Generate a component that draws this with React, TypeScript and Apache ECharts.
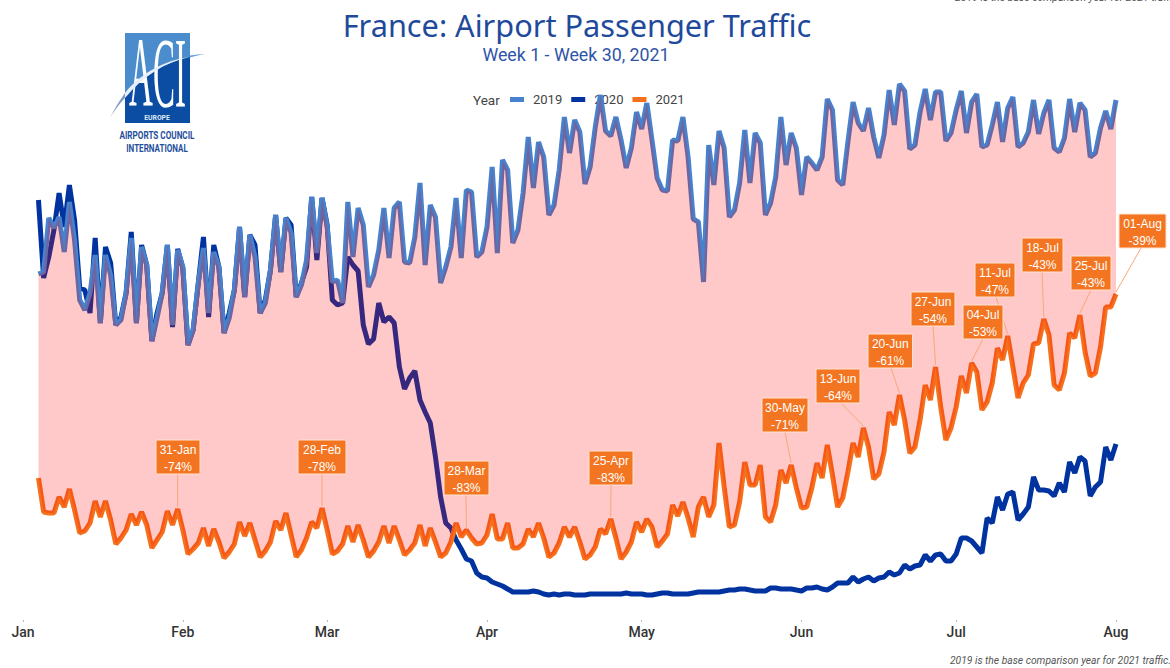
import React, { useEffect, useRef } from "react";
import * as echarts from "echarts";

// Daily passengers (thousands), Week 1 (4 Jan) to Week 30 (1 Aug)
const y2019 = [
  326,328,382,372,383,348,398,360,300,290,307,345,277,345,325,275,280,307,362,277,353,335,259,282,307,355,275,350,333,255,
  270,317,352,287,348,333,267,282,310,373,303,365,343,287,297,330,385,328,382,367,303,315,340,403,347,402,373,318,320,297,
  398,343,392,375,313,325,350,392,342,392,398,338,337,363,417,335,395,383,317,333,353,402,342,410,408,343,348,373,433,347,
  440,430,357,370,407,463,412,458,443,385,395,430,483,447,480,468,416,433,473,505,469,464,483,460,432,452,488,471,497,460,
  422,410,409,460,459,483,443,381,378,318,455,415,469,452,383,390,417,470,417,467,457,385,397,423,483,435,467,452,405,443,
  437,430,443,501,490,420,415,458,498,477,469,492,463,442,465,510,475,516,509,451,455,488,511,480,508,508,459,467,490,509,
  467,498,506,453,455,475,498,458,492,503,453,457,468,500,466,487,500,452,448,462,501,468,497,490,443,447,472,489,471,500,
];
const y2020 = [
  400,322,343,370,407,373,415,380,312,310,287,362,277,353,337,275,283,307,368,277,355,335,259,287,307,355,273,351,332,255,
  270,317,363,283,355,333,267,287,310,373,303,365,355,287,300,330,385,328,382,375,303,317,333,403,340,402,375,300,295,297,
  343,335,329,275,256,261,297,278,283,277,233,211,222,229,200,188,177,143,103,77,72,60,51,41,39,27,23,22,18,16,
  14,11,8,8,8,8,9,8,6,5,6,5,6,6,5,5,5,6,6,6,6,6,6,6,7,6,6,6,5,5,
  6,7,7,6,6,6,6,7,8,8,8,8,8,9,10,10,11,11,10,9,9,9,12,12,11,11,11,10,9,12,
  12,13,11,10,13,17,17,17,23,18,21,23,19,22,23,28,25,27,35,31,34,35,45,39,45,46,39,39,46,62,
  62,59,53,47,82,77,103,90,106,108,80,86,93,123,110,110,109,104,117,108,138,127,143,139,104,113,118,153,140,156,
];
const y2021 = [
  122,88,87,87,103,93,111,90,67,69,77,99,83,99,80,56,62,70,86,75,88,75,52,60,68,89,75,91,70,46,
  51,57,72,54,71,58,42,48,56,78,64,77,60,43,49,58,79,70,87,65,43,50,62,78,72,92,70,46,49,56,
  74,58,75,60,43,49,58,74,57,74,60,45,50,57,75,54,72,58,43,47,58,77,63,70,62,56,57,65,86,61,
  61,77,52,52,56,71,63,77,62,43,47,57,73,63,73,58,41,45,53,71,66,81,62,41,48,58,78,68,81,73,
  53,59,66,95,84,98,82,63,93,103,83,95,157,113,73,75,98,138,115,115,135,83,78,95,130,117,135,112,92,93,
  112,137,122,155,125,93,102,128,157,143,172,153,121,126,148,188,175,205,180,147,153,180,215,200,233,193,160,172,193,224,
  207,237,228,190,198,217,252,240,264,233,202,217,225,256,257,281,265,215,210,227,267,262,285,248,224,227,253,293,293,306,
];

const monthLabels = ["Jan", "Feb", "Mar", "Apr", "May", "Jun", "Jul", "Aug"];
const monthStartDays = [0, 31, 59, 90, 120, 151, 181, 212];
const firstDataDay = 3; // 4 January
const calloutDates = ["31-Jan", "28-Feb", "28-Mar", "25-Apr", "30-May", "13-Jun", "20-Jun", "27-Jun", "11-Jul", "04-Jul", "18-Jul", "25-Jul", "01-Aug"];
const calloutChanges = ["-74%", "-78%", "-83%", "-83%", "-71%", "-64%", "-61%", "-54%", "-47%", "-53%", "-43%", "-43%", "-39%"];
const calloutDayIndex = [27, 55, 83, 111, 146, 160, 167, 174, 188, 181, 195, 202, 209];

// Callout box layout on the page: [left, top, width, leader start x]
const calloutLayout = [
  [156, 440, 44, 177.6], [298, 440, 48, 322], [444, 461, 45, 466], [589, 451, 44, 611],
  [762, 398, 46, 785], [816, 369, 44, 841], [868, 334, 44.5, 891], [911, 292, 44, 933],
  [975, 263, 40, 996], [963, 305, 40, 983], [1022, 238, 41, 1042], [1071, 256, 40, 1091], [1119, 214, 47, 1141],
];

const pairs = (vals: number[]) => vals.map((v, i) => [firstDataDay + i, v]);

echarts.graphic.registerShape("aciDark", echarts.graphic.extendPath("M125 97 C143 76 165 62 190 57 L190 123 L125 123 Z", {}));
echarts.graphic.registerShape("aciSwoosh", echarts.graphic.extendPath("M125 98 C143 76 165 62 190 57 C165 60 141 73 125 93 Z", {}));
echarts.graphic.registerShape("aciTail", echarts.graphic.extendPath("M110 118 C114 110 119 101 125 93 L125 98 C119 104 114 111 110 118 Z", {}));
echarts.graphic.registerShape("aciTip", echarts.graphic.extendPath("M190 55.5 C195 54.5 200 54 205 54 C200 55 195 56 190 57.5 Z", {}));

export default function App() {
  const ref = useRef<HTMLDivElement>(null);
  useEffect(() => {
    document.body.style.margin = "0";
    const chart = echarts.init(ref.current!, undefined, { renderer: "svg" });
    const font = "Roboto, sans-serif";
    const lineWidth = 5;
    const lineBase = { type: "line", showSymbol: false, silent: true, smooth: false };
    chart.setOption({
      animation: false,
      backgroundColor: "#fff",
      title: [
        { text: "France: Airport Passenger Traffic", left: 577, top: 9, padding: 0, textAlign: "center",
          textStyle: { fontFamily: "'Noto Sans', sans-serif", fontWeight: 400, fontSize: 30.7, color: "#1f4a9b" } },
        { text: "Week 1 - Week 30, 2021", left: 576, top: 45, padding: 0, textAlign: "center",
          textStyle: { fontFamily: font, fontWeight: 400, fontSize: 17.8, color: "#2f55a8" } },
      ],
      legend: {
        data: ["2019", "2020", "2021"], left: 510, top: 93, padding: 0, z: 0, icon: "rect",
        itemWidth: 14, itemHeight: 5, itemGap: 9, selectedMode: false,
        textStyle: { fontFamily: font, fontSize: 13, color: "#444", padding: [0, 0, 0, 4] },
      },
      grid: { left: 23, width: 1093, top: 60, height: 560 },
      xAxis: {
        type: "value", min: 0, max: 212,
        splitLine: { show: false },
        axisLine: { show: false, onZero: false },
        axisTick: { show: true, length: 2, lineStyle: { color: "#bbb" }, customValues: monthStartDays },
        axisLabel: {
          customValues: monthStartDays, margin: 5, hideOverlap: false, showMinLabel: true, showMaxLabel: true,
          formatter: (v: number) => monthLabels[monthStartDays.indexOf(v)],
          fontFamily: font, fontWeight: 500, fontSize: 14, color: "#333",
        },
      },
      yAxis: { type: "value", min: -20, max: 540, show: false, splitLine: { show: false } },
      series: [
        { ...lineBase, name: "2020", z: 2, data: pairs(y2020), color: "#0033a0", lineStyle: { width: lineWidth, color: "#0033a0" } },
        { ...lineBase, name: "2021", z: 2, data: pairs(y2021), color: "#f5701c", lineStyle: { width: lineWidth, color: "#f5701c" } },
        { ...lineBase, name: "2019", z: 2, data: pairs(y2019), color: "#4682cd", lineStyle: { width: lineWidth, color: "#4682cd" } },
        {
          type: "custom", name: "band", z: 3, silent: true, clip: false,
          coordinateSystem: "cartesian2d",
          encode: { x: 0, y: 1 },
          data: [[firstDataDay, y2019[0]]],
          renderItem: (_params: any, api: any) => {
            const top = pairs(y2019).map((p) => api.coord(p));
            const bottom = pairs(y2021).map((p) => api.coord(p)).reverse();
            return { type: "polygon", shape: { points: top.concat(bottom) }, style: { fill: "rgba(255,0,0,0.21)" } };
          },
        },
        {
          type: "custom", name: "callouts", z: 5, silent: true, clip: false,
          coordinateSystem: "cartesian2d",
          encode: { x: 0, y: 1 },
          data: calloutDayIndex.map((i) => [firstDataDay + i, y2021[i]]),
          renderItem: (params: any, api: any) => {
            const i = params.dataIndex;
            const [left, top, width, lineX] = calloutLayout[i];
            const pt = api.coord([api.value(0), api.value(1)]);
            const h = 34;
            const cx = left + width / 2;
            return {
              type: "group",
              children: [
                { type: "line", shape: { x1: lineX, y1: top + h, x2: pt[0], y2: pt[1] - 2 },
                  style: { stroke: "#f7a878", lineWidth: 1 } },
                { type: "rect", shape: { x: left, y: top, width, height: h, r: 1 },
                  style: { fill: "#f37521", stroke: "#ffe2cf", lineWidth: 1 } },
                { type: "text", style: { x: cx, y: top + 9.5, text: calloutDates[i], fill: "#fff", font: "12px 'Liberation Sans'", align: "center", verticalAlign: "middle" } },
                { type: "text", style: { x: cx, y: top + 27, text: calloutChanges[i], fill: "#fff", font: "12px 'Liberation Sans'", align: "center", verticalAlign: "middle" } },
              ],
            };
          },
        },
      ],
      graphic: [
        { type: "text", left: 473, top: 93, style: { text: "Year", font: "13.5px Roboto", fill: "#444" } },
        { type: "text", left: 955, top: -8, style: { text: "2019 is the base comparison year for 2021 traffic.", font: "italic 10.5px Roboto", fill: "#555" } },
        { type: "text", left: 950, top: 655, style: { text: "2019 is the base comparison year for 2021 traffic.", font: "italic 10.3px Roboto", fill: "#555" } },
        { type: "rect", shape: { x: 125, y: 33, width: 65, height: 90 }, style: { fill: "#4a8ccc" } },
        { type: "aciDark", style: { fill: "#0b4da2" } },
        { type: "text", x: 157.5, y: 122, scaleX: 0.33, style: { text: "ACI", font: "100px 'Liberation Serif'", fill: "#fff", align: "center", verticalAlign: "bottom" } },
        { type: "aciSwoosh", style: { fill: "#e8eff8" } },
        { type: "aciTail", style: { fill: "#7f9cc4" } },
        { type: "aciTip", style: { fill: "#6aa2dc" } },
        { type: "text", x: 157, y: 117, scaleX: 0.85, style: { text: "EUROPE", font: "bold 8px Roboto", fill: "#dfe9f6", align: "center", verticalAlign: "middle" } },
        { type: "text", x: 157, y: 135, scaleX: 0.74, style: { text: "AIRPORTS COUNCIL", font: "bold 11px Roboto", fill: "#1f4e9c", align: "center", verticalAlign: "middle" } },
        { type: "text", x: 157, y: 148, scaleX: 0.73, style: { text: "INTERNATIONAL", font: "bold 11px Roboto", fill: "#1f4e9c", align: "center", verticalAlign: "middle" } },
      ],
    });
    return () => chart.dispose();
  }, []);
  return <div ref={ref} style={{ width: 1170, height: 668 }} />;
}
